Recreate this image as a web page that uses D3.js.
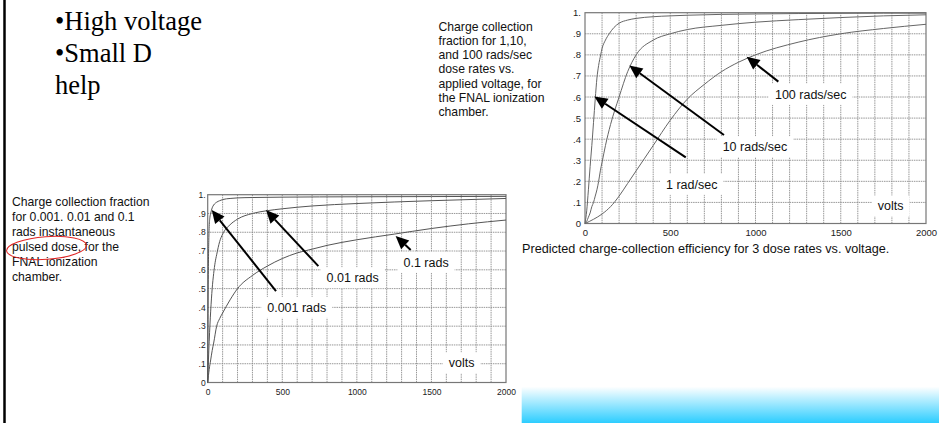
<!DOCTYPE html>
<html><head><meta charset="utf-8">
<script src="https://cdn.jsdelivr.net/npm/d3@7"></script>
<style>
html,body{margin:0;padding:0;background:#fff;}
svg{display:block;}
</style></head><body>
<svg id="c" width="939" height="423"></svg>
<script>
// ---- Continuous dose rates: collection fraction vs applied voltage ----
const voltsRate1   = [0, 10, 20, 30, 40, 50, 60, 70, 80, 92, 100, 120, 142, 170, 200, 250, 300, 400, 500, 600, 800, 1000, 1250, 1500, 1750, 2000];
const fracRate1    = [0, 0.06, 0.16, 0.27, 0.37, 0.48, 0.59, 0.69, 0.75, 0.8, 0.83, 0.87, 0.9, 0.93, 0.95, 0.965, 0.973, 0.981, 0.985, 0.988, 0.992, 0.994, 0.996, 0.997, 0.998, 0.998];
const voltsRate10  = [0, 10, 20, 30, 40, 50, 60, 70, 80, 90, 100, 120, 150, 200, 250, 300, 400, 500, 600, 800, 1000, 1250, 1500, 1750, 2000];
const fracRate10   = [0, 0.01, 0.03, 0.05, 0.08, 0.1, 0.13, 0.16, 0.2, 0.25, 0.29, 0.37, 0.47, 0.6, 0.72, 0.8, 0.87, 0.9, 0.92, 0.94, 0.955, 0.967, 0.977, 0.985, 0.99];
const voltsRate100 = [0, 50, 100, 150, 200, 250, 300, 350, 400, 500, 600, 700, 800, 900, 1000, 1250, 1500, 1750, 2000];
const fracRate100  = [0, 0.02, 0.045, 0.08, 0.13, 0.19, 0.25, 0.31, 0.37, 0.49, 0.59, 0.66, 0.72, 0.765, 0.8, 0.86, 0.9, 0.925, 0.945];

// ---- Instantaneous pulsed doses: collection fraction vs applied voltage ----
const voltsPulse001 = [0, 2, 4, 6, 8, 10, 15, 20, 30, 40, 60, 80, 100, 150, 200, 300, 500, 1000, 1500, 2000];
const fracPulse001  = [0, 0.3, 0.55, 0.7, 0.78, 0.83, 0.88, 0.9, 0.93, 0.945, 0.96, 0.968, 0.974, 0.98, 0.983, 0.985, 0.987, 0.989, 0.99, 0.991];
const voltsPulse01  = [0, 5, 10, 20, 30, 40, 50, 60, 80, 100, 150, 200, 300, 400, 500, 700, 1000, 1500, 2000];
const fracPulse01   = [0, 0.12, 0.22, 0.38, 0.5, 0.58, 0.64, 0.68, 0.75, 0.79, 0.84, 0.87, 0.9, 0.915, 0.925, 0.94, 0.953, 0.968, 0.98];
const voltsPulse1   = [0, 10, 20, 30, 40, 60, 80, 100, 150, 200, 300, 400, 500, 600, 700, 800, 1000, 1250, 1500, 1750, 2000];
const fracPulse1    = [0, 0.07, 0.12, 0.17, 0.21, 0.3, 0.34, 0.37, 0.44, 0.5, 0.57, 0.62, 0.66, 0.69, 0.71, 0.73, 0.76, 0.79, 0.82, 0.845, 0.865];

// ---- Axis ticks ----
const voltTicks = [0, 500, 1000, 1500, 2000];
const fracTicks = [0, 0.1, 0.2, 0.3, 0.4, 0.5, 0.6, 0.7, 0.8, 0.9, 1];
const fracTickLabels = ["0", ".1", ".2", ".3", ".4", ".5", ".6", ".7", ".8", ".9", "1."];

// ---- Series names and arrow annotations (label centre, arrow tail, arrow tip in volts / fraction) ----
const rateNames  = ["1 rad/sec", "10 rads/sec", "100 rads/sec"];
const pulseNames = ["0.001 rads", "0.01 rads", "0.1 rads"];
const rateLabelAt  = [[626, 0.186], [997, 0.364], [1324, 0.613]];
const rateArrowFrom = [[591, 0.314], [815, 0.42], [1134, 0.673]];
const rateArrowTo   = [[55, 0.602], [260, 0.749], [948, 0.791]];
const pulseLabelAt  = [[597, 0.40], [972, 0.558], [1464, 0.64]];
const pulseArrowFrom = [[458, 0.487], [742, 0.62], [1361, 0.706]];
const pulseArrowTo   = [[27, 0.918], [391, 0.918], [1260, 0.78]];

const svg = d3.select("#c");
const SANS = "'Liberation Sans', Arial, Helvetica, sans-serif";
const SERIF = "'Liberation Serif', 'Times New Roman', serif";

// gradient used by the bar at the bottom right
const defs = svg.append("defs");
const grad = defs.append("linearGradient").attr("id", "barGrad")
  .attr("x1", 0).attr("y1", 0).attr("x2", 0).attr("y2", 1);
grad.append("stop").attr("offset", "0%").attr("stop-color", "#ffffff");
grad.append("stop").attr("offset", "100%").attr("stop-color", "#2ccdff");

// left rule of the slide
svg.append("line").attr("x1", 4.5).attr("x2", 4.5).attr("y1", 0).attr("y2", 423)
  .attr("stroke", "#000").attr("stroke-width", 2.5);

// bullet text
const bullets = [["\u2022High voltage", 29.5], ["\u2022Small D", 61.5], ["help", 93.5]];
svg.append("g").selectAll("text").data(bullets).join("text")
  .attr("x", 55).attr("y", d => d[1])
  .attr("font-family", SERIF).attr("font-size", 26.5).attr("fill", "#000")
  .text(d => d[0]);

function paragraph(lines, x, y0, step) {
  svg.append("g").selectAll("text").data(lines).join("text")
    .attr("x", x).attr("y", (d, i) => y0 + i * step)
    .attr("font-family", SANS).attr("font-size", 12.2).attr("fill", "#111")
    .text(d => d);
}
paragraph(["Charge collection", "fraction for 1,10,", "and 100 rads/sec", "dose rates vs.",
  "applied voltage, for", "the FNAL ionization", "chamber."], 438.5, 31, 14.15);
paragraph(["Charge collection fraction", "for 0.001. 0.01 and 0.1", "rads instantaneous",
  "pulsed dose, for the", "FNAL ionization", "chamber."], 12, 205.5, 15.1);

// hand-drawn red ring around "pulsed dose,"
svg.append("ellipse").attr("cx", 46.5).attr("cy", 248).attr("rx", 40).attr("ry", 11.3)
  .attr("transform", "rotate(-4 46.5 248)")
  .attr("fill", "none").attr("stroke", "#e02424").attr("stroke-width", 1);

function chart(cfg) {
  const g = svg.append("g");
  const x = d3.scaleLinear().domain([0, 2000]).range([cfg.left, cfg.right]);
  const y = d3.scaleLinear().domain([0, 1]).range([cfg.bottom, cfg.top]);

  // grid every 100 V and every 0.1
  const vGrid = d3.range(100, 2000, 100);
  g.append("g").selectAll("line").data(vGrid).join("line")
    .attr("x1", d => x(d)).attr("x2", d => x(d)).attr("y1", y(0)).attr("y2", y(1))
    .attr("stroke", "#8c8c8c").attr("stroke-width", 0.9).attr("stroke-dasharray", "1.5,0.8");
  g.append("g").selectAll("line").data(fracTicks.slice(1, -1)).join("line")
    .attr("x1", x(0)).attr("x2", x(2000)).attr("y1", d => y(d)).attr("y2", d => y(d))
    .attr("stroke", "#8c8c8c").attr("stroke-width", 0.9).attr("stroke-dasharray", "1.5,0.8");

  // frame
  g.append("rect").attr("x", x(0)).attr("y", y(1)).attr("width", x(2000) - x(0)).attr("height", y(0) - y(1))
    .attr("fill", "none").attr("stroke", "#777").attr("stroke-width", 1.2);

  // curves
  const line = d3.line().x(d => x(d[0])).y(d => y(d[1])).curve(d3.curveMonotoneX);
  cfg.series.forEach(s => {
    g.append("path").datum(d3.zip(s.v, s.f)).attr("d", line)
      .attr("fill", "none").attr("stroke", cfg.curveColor).attr("stroke-width", 1);
  });

  // axes
  const xAxis = d3.axisBottom(x).tickValues(voltTicks).tickSize(0).tickPadding(cfg.xPad).tickFormat(d3.format("d"));
  const ax = g.append("g").attr("transform", `translate(0,${y(0)})`).call(xAxis);
  const yAxis = d3.axisLeft(y).tickValues(fracTicks).tickSize(0).tickPadding(cfg.yPad)
    .tickFormat((d, i) => fracTickLabels[i]);
  const ay = g.append("g").attr("transform", `translate(${x(0)},0)`).call(yAxis);
  [ax, ay].forEach(a => {
    a.select(".domain").remove();
    a.selectAll("text").attr("font-family", SANS).attr("font-size", cfg.tickFont).attr("fill", "#222");
  });

  // white-backed labels
  const labels = cfg.names.map((n, i) => ({ t: n, p: cfg.labelAt[i] })).concat([{ t: "volts", p: cfg.voltsAt }]);
  labels.forEach(l => {
    const cx = x(l.p[0]), cy = y(l.p[1]);
    const txt = g.append("text").attr("x", cx).attr("y", cy).attr("dy", "0.35em")
      .attr("text-anchor", "middle").attr("font-family", SANS).attr("font-size", 12.5).attr("fill", "#111").text(l.t);
    const b = txt.node().getBBox();
    g.insert("rect", () => txt.node())
      .attr("x", b.x - 6).attr("y", cy - 10.5).attr("width", b.width + 12).attr("height", 21).attr("fill", "#fff");
  });

  // arrows
  cfg.arrowFrom.forEach((f, i) => {
    const t = cfg.arrowTo[i];
    const x1 = x(f[0]), y1 = y(f[1]), x2 = x(t[0]), y2 = y(t[1]);
    const ang = Math.atan2(y2 - y1, x2 - x1);
    const L = 13, W = 6;
    const bx = x2 - L * Math.cos(ang), by = y2 - L * Math.sin(ang);
    g.append("line").attr("x1", x1).attr("y1", y1).attr("x2", bx).attr("y2", by)
      .attr("stroke", "#000").attr("stroke-width", 2);
    const px = -Math.sin(ang) * W, py = Math.cos(ang) * W;
    g.append("path")
      .attr("d", `M${x2},${y2}L${bx + px},${by + py}L${bx - px},${by - py}Z`)
      .attr("fill", "#000");
  });
  return g;
}

chart({
  left: 585, right: 926, top: 12.7, bottom: 223.5,
  series: [{ v: voltsRate1, f: fracRate1 }, { v: voltsRate10, f: fracRate10 }, { v: voltsRate100, f: fracRate100 }],
  names: rateNames, labelAt: rateLabelAt, arrowFrom: rateArrowFrom, arrowTo: rateArrowTo,
  voltsAt: [1793, 0.083], curveColor: "#666", tickFont: 9.5, xPad: 6, yPad: 4
});

chart({
  left: 207.7, right: 506, top: 194.7, bottom: 382.5,
  series: [{ v: voltsPulse001, f: fracPulse001 }, { v: voltsPulse01, f: fracPulse01 }, { v: voltsPulse1, f: fracPulse1 }],
  names: pulseNames, labelAt: pulseLabelAt, arrowFrom: pulseArrowFrom, arrowTo: pulseArrowTo,
  voltsAt: [1703, 0.105], curveColor: "#555", tickFont: 8.5, xPad: 6, yPad: 2
});

svg.append("text").attr("x", 522).attr("y", 253)
  .attr("font-family", SANS).attr("font-size", 12.65).attr("fill", "#111")
  .text("Predicted charge-collection efficiency for 3 dose rates vs. voltage.");

// cyan bar at the bottom right
svg.append("rect").attr("x", 521.7).attr("y", 386.7).attr("width", 939 - 521.7).attr("height", 423 - 386.7)
  .attr("fill", "url(#barGrad)");
</script>
</body></html>
